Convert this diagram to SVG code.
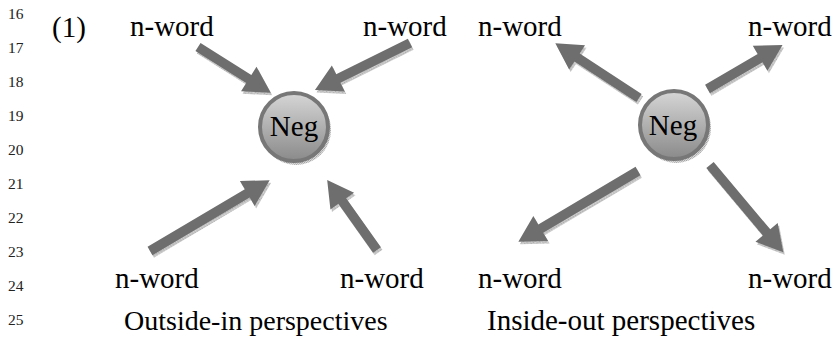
<svg xmlns="http://www.w3.org/2000/svg" width="836" height="346" viewBox="0 0 836 346">
<style>
.t{font-family:"Liberation Serif","Times New Roman",serif;font-size:29px;fill:#000}
.ln{font-family:"Liberation Serif","Times New Roman",serif;font-size:15.5px;fill:#222}
.arr{fill:#6e6e6e}
.sh{fill:url(#tex)}
.node{fill:url(#ball);stroke:#777;stroke-width:4}
</style>
<defs>
<pattern id="tex" width="2" height="2" patternUnits="userSpaceOnUse">
<rect width="2" height="2" fill="#d8d8d8"/>
<rect width="1" height="1" fill="#a8a8a8"/>
<rect x="1" y="1" width="1" height="1" fill="#b8b8b8"/>
</pattern>
<linearGradient id="ball" x1="0" y1="0" x2="0" y2="1">
<stop offset="0" stop-color="#d6d6d6"/>
<stop offset="1" stop-color="#8a8a8a"/>
</linearGradient>
<path id="a1" d="M0,-4.8H60V-14.5L86,0L60,14.5V4.8H0Z"/>
<path id="a2" d="M0,-4.8H80V-14.5L106,0L80,14.5V4.8H0Z"/>
<path id="a3" d="M0,-4.8H113V-14.5L139,0L113,14.5V4.8H0Z"/>
<path id="a4" d="M0,-4.8H60V-14.5L86,0L60,14.5V4.8H0Z"/>
<path id="b1" d="M0,-4.8H74V-14.5L100,0L74,14.5V4.8H0Z"/>
<path id="b2" d="M0,-4.8H61V-14.5L87,0L61,14.5V4.8H0Z"/>
<path id="b3" d="M0,-4.8H113V-14.5L139,0L113,14.5V4.8H0Z"/>
<path id="b4" d="M0,-4.8H88V-14.5L114,0L88,14.5V4.8H0Z"/>
</defs>
<g id="line-numbers" class="ln">
<text x="8" y="19">16</text>
<text x="8" y="53">17</text>
<text x="8" y="87">18</text>
<text x="8" y="121">19</text>
<text x="8" y="155">20</text>
<text x="8" y="189">21</text>
<text x="8" y="223">22</text>
<text x="8" y="257">23</text>
<text x="8" y="291">24</text>
<text x="8" y="325">25</text>
</g>
<text class="t" x="52" y="37">(1)</text>
<g id="connectors">
<g class="sh" transform="translate(1.5,2.5)">
<use href="#a1" transform="translate(198,47) rotate(32.2)"/>
<use href="#a2" transform="translate(410,43) rotate(153.7)"/>
<use href="#a3" transform="translate(150,251) rotate(-30.6)"/>
<use href="#a4" transform="translate(377,250) rotate(-125.4)"/>
<use href="#b1" transform="translate(639,98) rotate(-146.8)"/>
<use href="#b2" transform="translate(707.5,89) rotate(-30.4)"/>
<use href="#b3" transform="translate(638,171) rotate(149.4)"/>
<use href="#b4" transform="translate(710,165) rotate(50)"/>
</g>
<g class="arr">
<use href="#a1" transform="translate(198,47) rotate(32.2)"/>
<use href="#a2" transform="translate(410,43) rotate(153.7)"/>
<use href="#a3" transform="translate(150,251) rotate(-30.6)"/>
<use href="#a4" transform="translate(377,250) rotate(-125.4)"/>
<use href="#b1" transform="translate(639,98) rotate(-146.8)"/>
<use href="#b2" transform="translate(707.5,89) rotate(-30.4)"/>
<use href="#b3" transform="translate(638,171) rotate(149.4)"/>
<use href="#b4" transform="translate(710,165) rotate(50)"/>
</g>
</g>
<g id="neg-left">
<circle cx="296" cy="130" r="35" class="sh"/>
<circle cx="294" cy="127" r="34" class="node"/>
<text class="t" x="294" y="136" text-anchor="middle">Neg</text>
</g>
<g id="neg-right">
<circle cx="676" cy="128" r="35" class="sh"/>
<circle cx="674" cy="125" r="34" class="node"/>
<text class="t" x="673" y="135" text-anchor="middle">Neg</text>
</g>
<g id="nword-l-tl"><text class="t" x="130" y="36">n-word</text></g>
<g id="nword-l-tr"><text class="t" x="363" y="36">n-word</text></g>
<g id="nword-l-bl"><text class="t" x="115" y="288">n-word</text></g>
<g id="nword-l-br"><text class="t" x="340" y="288">n-word</text></g>
<g id="nword-r-tl"><text class="t" x="478" y="36">n-word</text></g>
<g id="nword-r-tr"><text class="t" x="748" y="36">n-word</text></g>
<g id="nword-r-bl"><text class="t" x="478" y="288">n-word</text></g>
<g id="nword-r-br"><text class="t" x="748" y="288">n-word</text></g>
<text class="t" x="124" y="330" style="font-size:28px">Outside-in perspectives</text>
<text class="t" x="487" y="330">Inside-out perspectives</text>
</svg>
